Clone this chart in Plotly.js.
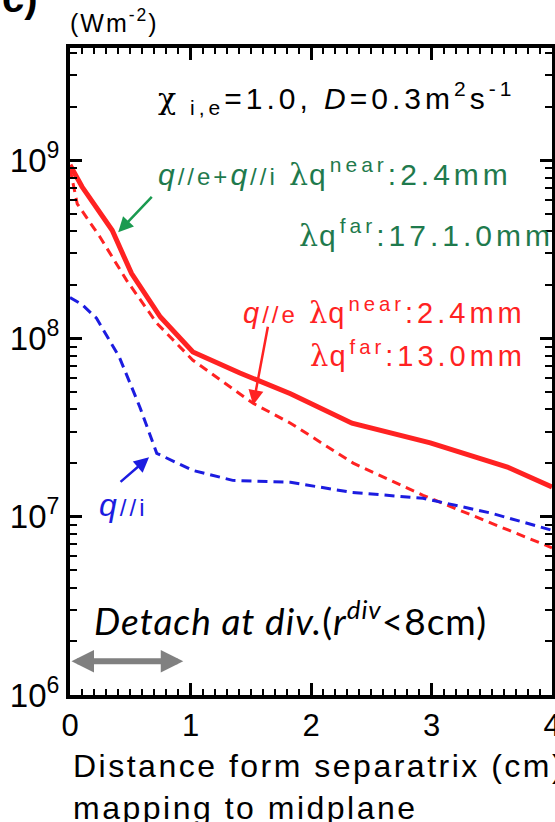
<!DOCTYPE html>
<html>
<head>
<meta charset="utf-8">
<script src="https://cdn.plot.ly/plotly-3.0.1.min.js"></script>
<style>html,body{margin:0;padding:0;background:#fff;}#chart{width:555px;height:822px;}</style>
</head>
<body>
<div id="chart"></div>
<script>
// Distance from separatrix (cm) and parallel heat flux (W m^-2)
const xTotal = [0, 0.10, 0.35, 0.51, 0.75, 1.02, 1.41, 1.83, 2.34, 2.99, 3.63, 4.0];
const qTotal = [9.4e8, 7.1e8, 4.05e8, 2.32e8, 1.32e8, 8.4e7, 6.4e7, 4.9e7, 3.35e7, 2.6e7, 1.9e7, 1.47e7];

const xElectron = [0, 0.06, 0.25, 0.47, 0.72, 1.02, 1.52, 1.83, 2.35, 2.93, 3.43, 4.0];
const qElectron = [9.0e8, 5.7e8, 3.7e8, 2.12e8, 1.22e8, 7.55e7, 4.33e7, 3.35e7, 2.0e7, 1.32e7, 9.6e6, 6.7e6];

const xIon = [0, 0.10, 0.22, 0.41, 0.58, 0.72, 1.02, 1.35, 1.83, 2.34, 2.93, 3.49, 4.0];
const qIon = [1.7e8, 1.55e8, 1.3e8, 7.85e7, 4.12e7, 2.27e7, 1.82e7, 1.6e7, 1.56e7, 1.37e7, 1.27e7, 1.05e7, 8.4e6];

const xTickVals = [0, 1, 2, 3, 4];
const yDecades = [6, 7, 8, 9];
const yTickVals = yDecades.map(d => Math.pow(10, d));
const yTickText = yDecades.map(d => '10<sup>' + d + '</sup>');
const yMinorVals = [];
yDecades.forEach(d => { for (let m = 2; m <= 9; m++) yMinorVals.push(m * Math.pow(10, d)); });

const detachRange = [0, 0.94]; // cm, r_div < 8cm region

const FONT = 'Liberation Sans, Arial, Helvetica, sans-serif';
const GREEN = '#1f7a4d';
const RED = '#ff2222';
const BLUE = '#1c1ce0';

const traces = [
  {x: xTotal, y: qTotal, mode: 'lines', line: {color: RED, width: 5}, name: 'q//e+q//i'},
  {x: xElectron, y: qElectron, mode: 'lines', line: {color: RED, width: 3, dash: '9px,6px'}, name: 'q//e'},
  {x: xIon, y: qIon, mode: 'lines', line: {color: BLUE, width: 3, dash: '10px,6px'}, name: 'q//i'}
];

const lam = '<span style="font-family:DejaVu Serif;letter-spacing:1px">λ</span>';
const sp = (t, ls) => '<span style="letter-spacing:' + ls + 'px">' + t + '</span>';

const annotations = [
  {xref: 'paper', yref: 'paper', x: -0.145, y: 1.04, xanchor: 'left', yanchor: 'bottom',
   text: '<b>c)</b>', showarrow: false, font: {family: FONT, size: 40, color: '#000'}},
  {xref: 'paper', yref: 'paper', x: -0.004, y: 1.042, xanchor: 'left', yanchor: 'middle',
   text: sp('(Wm<sup>-2</sup>)', 2), showarrow: false, font: {family: FONT, size: 25, color: '#000'}},
  {xref: 'paper', yref: 'paper', x: 0.178, y: 0.922, xanchor: 'left', yanchor: 'middle',
   text: sp('<span style="font-family:DejaVu Serif">χ</span><sub> i,e</sub>=1.0, <i>D</i>=0.3m<sup>2</sup>s<sup>-1</sup>', 4),
   showarrow: false, font: {family: FONT, size: 30, color: '#000'}},
  {xref: 'paper', yref: 'paper', x: 0.178, y: 0.808, xanchor: 'left', yanchor: 'middle',
   text: sp('<i>q</i><span style="font-size:24px">//e+</span><i>q</i><span style="font-size:24px">//i</span> ', 3) + lam + sp('q<sup>near</sup>:2.4mm', 4),
   showarrow: false, font: {family: FONT, size: 30, color: GREEN}},
  {xref: 'paper', yref: 'paper', x: 0.471, y: 0.713, xanchor: 'left', yanchor: 'middle',
   text: lam + sp('q<sup>far</sup>:17.1.0mm', 4),
   showarrow: false, font: {family: FONT, size: 30, color: GREEN}},
  {xref: 'paper', yref: 'paper', x: 0.355, y: 0.592, xanchor: 'left', yanchor: 'middle',
   text: sp('<i>q</i><span style="font-size:24px">//e</span> ', 3) + lam + sp('q<sup>near</sup>:2.4mm', 4),
   showarrow: false, font: {family: FONT, size: 29, color: RED}},
  {xref: 'paper', yref: 'paper', x: 0.494, y: 0.527, xanchor: 'left', yanchor: 'middle',
   text: lam + sp('q<sup>far</sup>:13.0mm', 4),
   showarrow: false, font: {family: FONT, size: 29, color: RED}},
  {xref: 'paper', yref: 'paper', x: 0.056, y: 0.293, xanchor: 'left', yanchor: 'middle',
   text: sp('<i>q</i><span style="font-size:24px">//i</span>', 3),
   showarrow: false, font: {family: FONT, size: 32, color: BLUE}},
  {xref: 'paper', yref: 'paper', x: 0.046, y: 0.119, xanchor: 'left', yanchor: 'middle',
   text: sp('<i>Detach at div.</i>(<i>r<sup>div</sup></i><8cm)', 1),
   showarrow: false, font: {family: 'Lato, Open Sans, sans-serif', size: 37, color: '#000'}},
  // arrows
  {x: 0.40, y: 8.596, xref: 'x', yref: 'y', ax: 35, ay: -37, text: '', showarrow: true,
   arrowhead: 2, arrowsize: 1.2, arrowwidth: 2.5, arrowcolor: '#1a9a50'},
  {x: 1.52, y: 7.626, xref: 'x', yref: 'y', ax: 15, ay: -80, text: '', showarrow: true,
   arrowhead: 2, arrowsize: 1.2, arrowwidth: 2.5, arrowcolor: RED},
  {x: 0.656, y: 7.334, xref: 'x', yref: 'y', ax: -30, ay: 26, text: '', showarrow: true,
   arrowhead: 2, arrowsize: 1.2, arrowwidth: 2.5, arrowcolor: BLUE},
  {x: detachRange[1], y: 6.19, xref: 'x', yref: 'y', ax: detachRange[0], ay: 6.19, axref: 'x', ayref: 'y',
   text: '', showarrow: true, arrowside: 'end+start', arrowhead: 2, arrowsize: 0.75, arrowwidth: 6, arrowcolor: '#808080'},
  // x-axis title lines
  {xref: 'paper', yref: 'paper', x: 0.002, y: -0.110, xanchor: 'left', yanchor: 'middle',
   text: sp('Distance form separatrix (cm)', 2.5), showarrow: false, font: {family: FONT, size: 32, color: '#000'}},
  {xref: 'paper', yref: 'paper', x: 0.002, y: -0.175, xanchor: 'left', yanchor: 'middle',
   text: sp('mapping to midplane', 2.5), showarrow: false, font: {family: FONT, size: 32, color: '#000'}}
];

const layout = {
  width: 555, height: 822,
  margin: {l: 70, r: 3, t: 48, b: 127, pad: 0},
  paper_bgcolor: '#fff', plot_bgcolor: '#fff',
  showlegend: false,
  font: {family: FONT, color: '#000'},
  xaxis: {
    range: [0, 4], tickvals: xTickVals, showgrid: false, zeroline: false,
    showline: true, linewidth: 4, linecolor: '#000', mirror: 'allticks',
    ticks: 'inside', ticklen: 12, tickwidth: 3, tickcolor: '#000',
    ticklabeloverflow: 'allow',
    tickfont: {family: FONT, size: 31, color: '#000'},
    minor: {ticks: 'inside', ticklen: 6, tickwidth: 2, tickcolor: '#000', dtick: 0.1, showgrid: false}
  },
  yaxis: {
    type: 'log', range: [6, 9.63], tickmode: 'array', tickvals: yTickVals, ticktext: yTickText,
    showgrid: false, zeroline: false,
    showline: true, linewidth: 4, linecolor: '#000', mirror: 'allticks',
    ticks: 'inside', ticklen: 12, tickwidth: 3, tickcolor: '#000',
    ticklabeloverflow: 'allow',
    tickfont: {family: FONT, size: 33, color: '#000'},
    minor: {ticks: 'inside', ticklen: 7, tickwidth: 2, tickcolor: '#000', tickmode: 'array', tickvals: yMinorVals, showgrid: false}
  },
  annotations: annotations
};

Plotly.newPlot('chart', traces, layout, {displayModeBar: false, staticPlot: true});
</script>
</body>
</html>
